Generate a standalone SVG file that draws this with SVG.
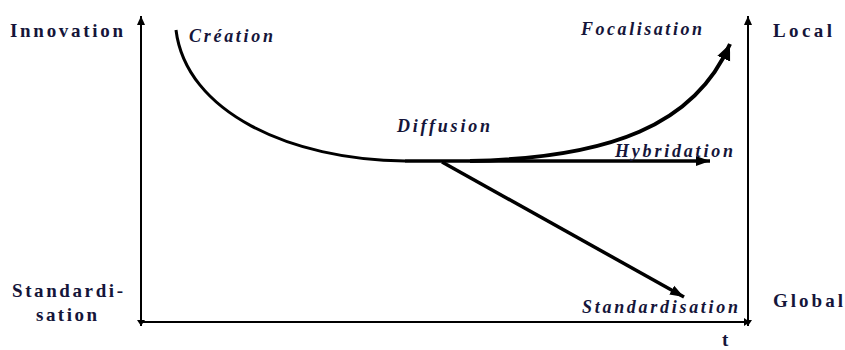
<svg xmlns="http://www.w3.org/2000/svg" width="845" height="350" viewBox="0 0 845 350">
<style>
.ax{fill:#15153a;font-family:'Liberation Serif','Times New Roman','DejaVu Serif',serif;font-weight:bold;font-size:19px}
.lb{fill:#15153a;font-family:'Liberation Serif','Times New Roman','DejaVu Serif',serif;font-weight:bold;font-style:italic;font-size:18px}
.axis{stroke:#000;stroke-width:2;fill:none}
.flow{stroke:#000;fill:none;stroke-linecap:butt}
</style>
<defs>
<marker id="ah" markerUnits="userSpaceOnUse" markerWidth="10" markerHeight="10" refX="9" refY="4" orient="auto" viewBox="0 0 10 8">
<path d="M0,0 L9,4 L0,8 z" fill="#000"/>
</marker>
<marker id="ahs" markerUnits="userSpaceOnUse" markerWidth="7" markerHeight="8" refX="6" refY="4" orient="auto" viewBox="0 0 7 8">
<path d="M0,0 L6,4 L0,8 z" fill="#000"/>
</marker>
<marker id="big" markerUnits="userSpaceOnUse" markerWidth="16" markerHeight="12" refX="14" refY="5" orient="auto" viewBox="0 0 16 10">
<path d="M0,0 L14,5 L0,10 z" fill="#000"/>
</marker>
<marker id="foc" markerUnits="userSpaceOnUse" markerWidth="18" markerHeight="16" refX="16" refY="7" orient="auto" viewBox="0 0 18 14">
<path d="M0,0 L16,7 L0,14 z" fill="#000"/>
</marker>
</defs>
<g id="axes">
<line class="axis" x1="141" y1="321" x2="141" y2="16" marker-end="url(#ah)"/>
<line class="axis" x1="141" y1="300" x2="141" y2="326" marker-end="url(#ahs)"/>
<line class="axis" x1="141" y1="322" x2="750" y2="322" marker-end="url(#ahs)"/>
<line class="axis" x1="748" y1="321" x2="748" y2="16" marker-end="url(#ah)"/>
<line class="axis" x1="748" y1="300" x2="748" y2="326" marker-end="url(#ahs)"/>
</g>
<g id="axis-labels">
<text class="ax" x="10" y="37" textLength="113" lengthAdjust="spacing">Innovation</text>
<text class="ax" x="12" y="297" textLength="111" lengthAdjust="spacing">Standardi-</text>
<text class="ax" x="36" y="321" textLength="61" lengthAdjust="spacing">sation</text>
<text class="ax" x="773" y="37" textLength="59" lengthAdjust="spacing">Local</text>
<text class="ax" x="773" y="307" textLength="70" lengthAdjust="spacing">Global</text>
<text class="ax" x="722" y="346">t</text>
</g>
<g id="connectors">
<path class="flow" stroke-width="3" d="M176,30 C186,112 290,160 405,161"/>
<path class="flow" stroke-width="3.5" d="M405,161 L710,161" marker-end="url(#big)"/>
<path class="flow" stroke-width="4" d="M470,161 C610,158 695,125 730,44" marker-end="url(#foc)"/>
<path class="flow" stroke-width="3.5" d="M442,162 L684,297" marker-end="url(#big)"/>
</g>
<g id="node-creation"><text class="lb" x="189" y="42" textLength="84" lengthAdjust="spacing">Création</text></g>
<g id="node-focalisation"><text class="lb" x="581" y="35" textLength="121" lengthAdjust="spacing">Focalisation</text></g>
<g id="node-diffusion"><text class="lb" x="397" y="132" textLength="93" lengthAdjust="spacing">Diffusion</text></g>
<g id="node-hybridation"><text class="lb" x="615" y="157" textLength="118" lengthAdjust="spacing">Hybridation</text></g>
<g id="node-standardisation"><text class="lb" x="582" y="313" textLength="156" lengthAdjust="spacing">Standardisation</text></g>
</svg>
